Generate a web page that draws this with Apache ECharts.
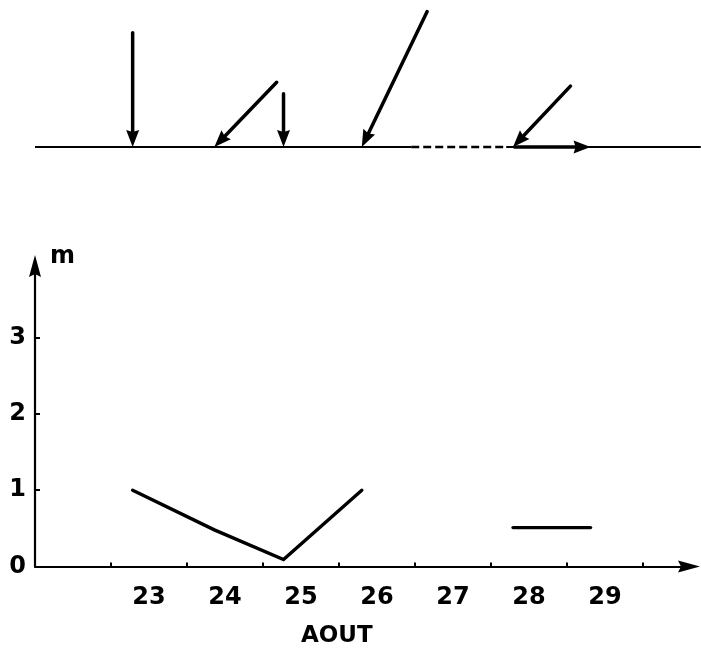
<!DOCTYPE html>
<html><head><meta charset="utf-8">
<script src="https://cdn.jsdelivr.net/npm/echarts@6/dist/echarts.min.js"></script>
<style>html,body{margin:0;padding:0;background:#fff}#c{width:701px;height:653px}</style>
</head><body><div id="c"></div>
<script>
// observation times (day of August, fractional)
const obsTimes = [23.285, 24.36, 25.27, 26.30, 28.29, 29.31];
// wind vectors (arrow direction, drawn with tip on the time axis)
const windU = [0, -0.82, 0, -0.86, -0.755, 1.0];
const windV = [-1.50, -0.85, -0.70, -1.78, -0.80, 0];
// wave height (m)
const waveHeight = [1.0, 0.48, 0.09, 1.0, 0.51, 0.51];
const waveRuns = [[0, 4], [4, 6]];
// record coverage on the wind time line: solid, missing (dashed), solid
const recordStart = 22, gapStart = 26.95, gapEnd = 28.2, recordEnd = 30.76;
// axis ticks
const dayTicks = [23, 24, 25, 26, 27, 28, 29];
const dayTickMarks = [23, 24, 25, 26, 27, 28, 29, 30];
const heightTicks = [0, 1, 2, 3];

const FONT = 'DejaVu Sans';
const arrowPath = 'path://M6,0 L12,22 L6,19 L0,22 Z';

const windData = obsTimes.map((t, i) => [t, windU[i], windV[i]]);

function renderArrow(params, api) {
  const t = api.value(0), u = api.value(1), v = api.value(2);
  const tip = api.coord([t, 0]);
  const tail = api.coord([t - u, -v]);
  const dx = tip[0] - tail[0], dy = tip[1] - tail[1];
  const len = Math.hypot(dx, dy) || 1;
  const ux = dx / len, uy = dy / len;
  const hl = 17, hw = 6.5;
  const bx = tip[0] - ux * hl, by = tip[1] - uy * hl;
  const nx = -uy, ny = ux;
  return {
    type: 'group',
    children: [
      { type: 'line', shape: { x1: tail[0], y1: tail[1], x2: bx + ux * 3, y2: by + uy * 3 },
        style: { stroke: '#000', lineWidth: 3.5, lineCap: 'round' } },
      { type: 'polygon', shape: { points: [
          [tip[0], tip[1]],
          [bx + nx * hw, by + ny * hw],
          [tip[0] - ux * hl * 0.88, tip[1] - uy * hl * 0.88],
          [bx - nx * hw, by - ny * hw]] },
        style: { fill: '#000' } }
    ]
  };
}

const waveSeries = waveRuns.map(([a, b]) => ({
  type: 'line', xAxisIndex: 1, yAxisIndex: 1,
  data: obsTimes.slice(a, b).map((t, i) => [t, waveHeight[a + i]]),
  showSymbol: false, symbol: 'none',
  lineStyle: { color: '#000', width: 3.4, cap: 'round', join: 'miter' }
}));

const option = {
  animation: false,
  backgroundColor: '#fff',
  title: {
    text: 'AOUT', left: 301, top: 625, padding: 0,
    textStyle: { fontFamily: FONT, fontWeight: 'bold', fontSize: 23, color: '#000' }
  },
  grid: [
    { left: 35, top: 10, width: 666, height: 137 },
    { left: 35, top: 266, width: 654, height: 300.5 }
  ],
  xAxis: [
    { gridIndex: 0, type: 'value', min: 22, max: 22 + 666 / 76, show: false },
    { gridIndex: 1, type: 'value', min: 22, max: 22 + 654 / 76,
      splitLine: { show: false },
      axisLine: { show: true, lineStyle: { color: '#000', width: 2.2 },
        symbol: ['none', arrowPath], symbolSize: [12, 22] },
      axisTick: { show: true, inside: true, length: 4, customValues: dayTickMarks,
        lineStyle: { color: '#000', width: 2 } },
      axisLabel: { show: true, customValues: dayTicks.map(d => d + 0.5),
        formatter: v => String(Math.round(v - 0.5)),
        margin: 19, color: '#000', fontFamily: FONT, fontWeight: 'bold', fontSize: 24 } }
  ],
  yAxis: [
    { gridIndex: 0, type: 'value', min: 0, max: 1.8, show: false },
    { gridIndex: 1, type: 'value', min: 0, max: 300.5 / 76.3,
      name: 'm', nameLocation: 'end', nameGap: -3,
      nameTextStyle: { align: 'left', padding: [0, 0, 0, 15], color: '#000',
        fontFamily: FONT, fontWeight: 'bold', fontSize: 24 },
      splitLine: { show: false },
      axisLine: { show: true, lineStyle: { color: '#000', width: 2.2 },
        symbol: ['none', arrowPath], symbolSize: [12, 22] },
      axisTick: { show: true, inside: true, length: 5, customValues: [1, 2, 3],
        lineStyle: { color: '#000', width: 2 } },
      axisLabel: { show: true, customValues: heightTicks, margin: 9,
        color: '#000', fontFamily: FONT, fontWeight: 'bold', fontSize: 24 } }
  ],
  series: [
    { type: 'line', xAxisIndex: 0, yAxisIndex: 0, symbol: 'none', clip: false,
      data: [[recordStart, 0], [gapStart, 0]], lineStyle: { color: '#000', width: 2.2 } },
    { type: 'line', xAxisIndex: 0, yAxisIndex: 0, symbol: 'none', clip: false,
      data: [[gapStart, 0], [gapEnd, 0]], lineStyle: { color: '#000', width: 2.6, type: [8, 4] } },
    { type: 'line', xAxisIndex: 0, yAxisIndex: 0, symbol: 'none', clip: false,
      data: [[gapEnd, 0], [recordEnd, 0]], lineStyle: { color: '#000', width: 2.2 } },
    { type: 'custom', xAxisIndex: 0, yAxisIndex: 0, clip: false,
      data: windData, encode: { x: 0, y: 2 }, renderItem: renderArrow },
    ...waveSeries
  ]
};

const chart = echarts.init(document.getElementById('c'), null, { renderer: 'canvas' });
chart.setOption(option);
</script>
</body></html>
